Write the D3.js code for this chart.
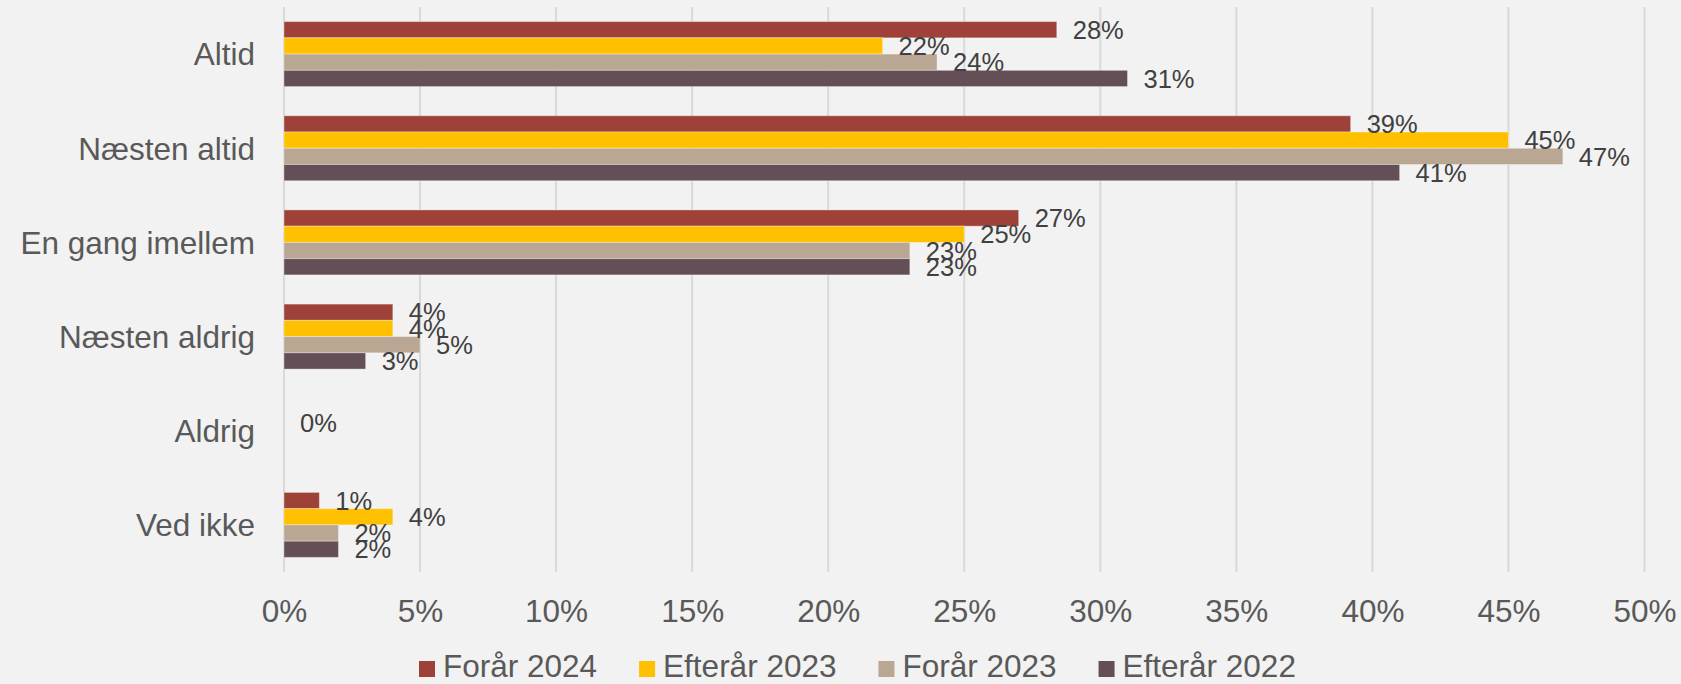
<!DOCTYPE html>
<html>
<head>
<meta charset="utf-8">
<script src="https://cdn.jsdelivr.net/npm/d3@7"></script>
<style>
  html, body { margin: 0; padding: 0; background: #F2F2F2; }
  svg { display: block; }
  text { font-family: "Liberation Sans", Arial, sans-serif; }
</style>
</head>
<body>
<svg id="chart" width="1681" height="684"></svg>
<script>
// Answer categories (top to bottom)
const categories = ["Altid", "Næsten altid", "En gang imellem", "Næsten aldrig", "Aldrig", "Ved ikke"];

// Survey rounds, in drawing order within each group
const seriesNames = ["Forår 2024", "Efterår 2023", "Forår 2023", "Efterår 2022"];
const seriesColors = ["#9E4239", "#FFC000", "#B9A793", "#654F57"];

// Share of respondents (%) per round; null = no answer recorded
const foraar2024   = [28.4, 39.2, 27, 4, null, 1.3];
const efteraar2023 = [22,   45,   25, 4, 0,    4];
const foraar2023   = [24,   47,   23, 5, null, 2];
const efteraar2022 = [31,   41,   23, 3, null, 2];

// Axis ticks (percent)
const xTicks = [0, 5, 10, 15, 20, 25, 30, 35, 40, 45, 50];

const seriesValues = [foraar2024, efteraar2023, foraar2023, efteraar2022];

const W = 1681, H = 684;
const plot = { left: 284, right: 1644.5, top: 7, bottom: 572 };

const svg = d3.select("#chart");
svg.append("rect").attr("width", W).attr("height", H).attr("fill", "#F2F2F2");

const x = d3.scaleLinear().domain([0, 50]).range([plot.left, plot.right]);
const y = d3.scaleBand().domain(categories).range([plot.top, plot.bottom])
  .paddingInner(0.31).paddingOuter(0.155);
const yInner = d3.scaleBand().domain(seriesNames).range([0, y.bandwidth()]);

// Vertical gridlines
svg.append("g").selectAll("line").data(xTicks).join("line")
  .attr("x1", d => x(d)).attr("x2", d => x(d))
  .attr("y1", plot.top).attr("y2", plot.bottom)
  .attr("stroke", "#D9D9D9").attr("stroke-width", 2);

// X axis tick labels
const xAxis = d3.axisBottom(x).tickValues(xTicks).tickFormat(d => d + "%").tickSize(0).tickPadding(0);
const gx = svg.append("g").attr("transform", `translate(0,${plot.bottom})`).call(xAxis);
gx.select(".domain").remove();
gx.selectAll("text")
  .attr("y", 50).attr("dy", null)
  .attr("font-size", 31.5).attr("fill", "#595959")
  .style("font-family", "'Liberation Sans', Arial, sans-serif");

// Category labels
const yAxis = d3.axisLeft(y).tickSize(0).tickPadding(29);
const gy = svg.append("g").attr("transform", `translate(${plot.left},0)`).call(yAxis);
gy.select(".domain").remove();
gy.selectAll("text")
  .attr("dy", "0.36em")
  .attr("font-size", 31.5).attr("fill", "#595959")
  .style("font-family", "'Liberation Sans', Arial, sans-serif");

// Flatten to one record per bar
const records = [];
categories.forEach((c, ci) => {
  seriesNames.forEach((s, si) => {
    const v = seriesValues[si][ci];
    if (v !== null) records.push({ category: c, series: s, si, value: v });
  });
});

// Bars
svg.append("g").selectAll("rect").data(records).join("rect")
  .attr("x", x(0))
  .attr("y", d => y(d.category) + yInner(d.series))
  .attr("width", d => x(d.value) - x(0))
  .attr("height", yInner.bandwidth())
  .attr("fill", d => seriesColors[d.si])
  .attr("stroke", "rgba(255,255,255,0.35)")
  .attr("stroke-width", 1);

// Value labels
const fmt = d => d3.format(".0f")(d) + "%";
svg.append("g").selectAll("text").data(records).join("text")
  .attr("x", d => x(d.value) + 16)
  .attr("y", d => y(d.category) + yInner(d.series) + yInner.bandwidth() / 2)
  .attr("dy", "0.36em")
  .attr("font-size", 25.5)
  .attr("fill", "#404040")
  .text(d => fmt(d.value));

// Legend
const legend = svg.append("g");
let lx = 419;
seriesNames.forEach((s, i) => {
  const g = legend.append("g").attr("transform", `translate(${lx},0)`);
  g.append("rect").attr("x", 0).attr("y", 661).attr("width", 16).attr("height", 16)
    .attr("fill", seriesColors[i]);
  const t = g.append("text").attr("x", 24).attr("y", 677)
    .attr("font-size", 31.5).attr("fill", "#595959").text(s);
  lx += 24 + t.node().getComputedTextLength() + 42;
});
</script>
</body>
</html>
